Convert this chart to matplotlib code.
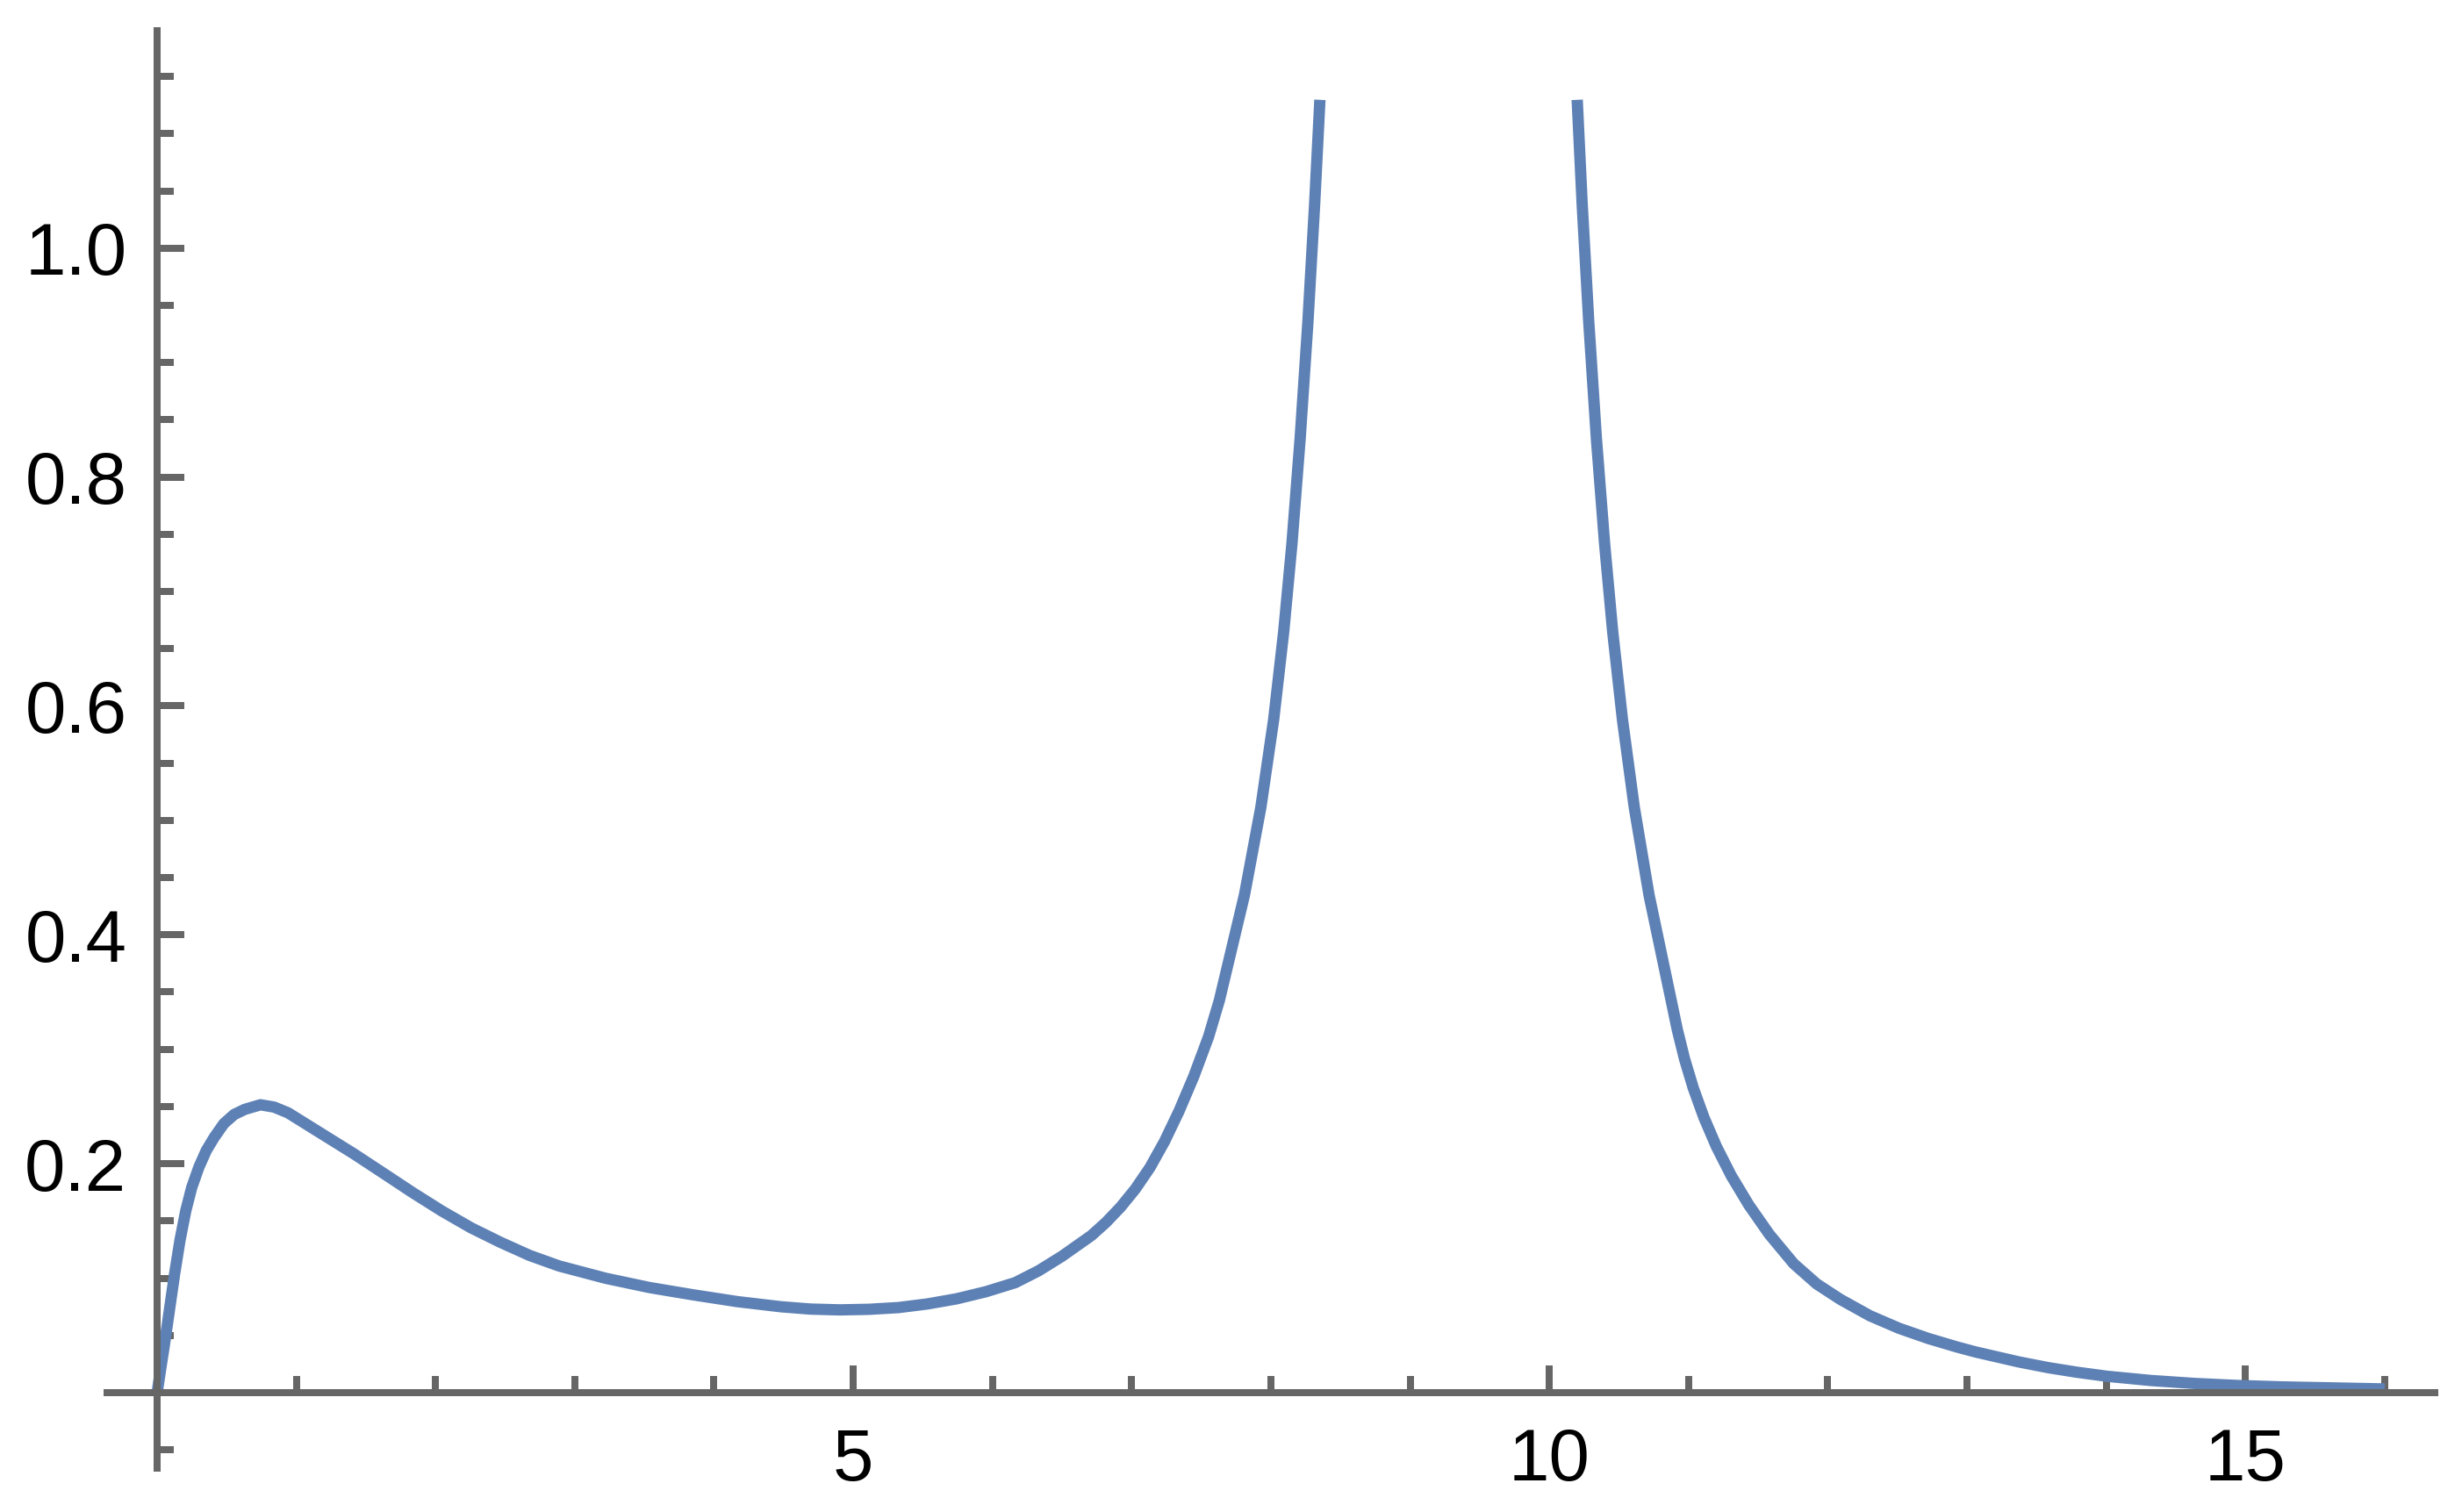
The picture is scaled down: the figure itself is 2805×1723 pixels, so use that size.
import matplotlib
matplotlib.use('Agg')
import matplotlib.pyplot as plt
from matplotlib.ticker import FixedLocator, FixedFormatter

plt.rcParams['font.family'] = ['Liberation Sans', 'DejaVu Sans']

# curve: rising branch (clipped at the top of the plot range)
left_x = [0.0, 0.032, 0.05, 0.074, 0.101, 0.126, 0.164, 0.206, 0.248, 0.30, 0.353,
          0.41, 0.479, 0.553, 0.63, 0.742, 0.84, 0.94, 1.204, 1.414, 1.625, 1.835,
          2.045, 2.255, 2.465, 2.675, 2.886, 3.222, 3.537, 3.852, 4.168, 4.483,
          4.693, 4.903, 5.113, 5.324, 5.534, 5.744, 5.954, 6.164, 6.332, 6.50,
          6.711, 6.816, 6.921, 7.026, 7.131, 7.236, 7.341, 7.447, 7.552, 7.630,
          7.810, 7.928, 8.020, 8.092, 8.151, 8.210, 8.266, 8.314, 8.352]
left_y = [0.0, 0.026, 0.040, 0.060, 0.083, 0.104, 0.133, 0.159, 0.179, 0.197, 0.2115,
          0.223, 0.235, 0.243, 0.2475, 0.2515, 0.2495, 0.2445, 0.2245, 0.2086, 0.1917, 0.1748,
          0.1587, 0.144, 0.1314, 0.1199, 0.1107, 0.0999, 0.0918, 0.0854, 0.0795, 0.0750,
          0.0730, 0.0723, 0.0728, 0.0743, 0.0775, 0.082, 0.0882, 0.0961, 0.1065, 0.1192,
          0.1373, 0.1488, 0.1622, 0.1779, 0.1966, 0.2195, 0.2462, 0.2766, 0.3109, 0.3428,
          0.4348, 0.5115, 0.5882, 0.6649, 0.7416, 0.8336, 0.9358, 1.0381, 1.1296]

# falling branch after the resonance
right_x = [10.200, 10.236, 10.283, 10.338, 10.397, 10.455, 10.525, 10.610, 10.716,
           10.875, 10.919, 10.971, 11.034, 11.110, 11.200, 11.307, 11.433, 11.580,
           11.755, 11.92, 12.09, 12.302, 12.51, 12.722, 12.93, 13.059, 13.373, 13.584,
           13.79, 14.004, 14.32, 14.635, 14.95, 15.265, 16.0]
right_y = [1.1296, 1.0381, 0.9358, 0.8336, 0.7416, 0.6649, 0.5882, 0.5115, 0.4348,
           0.3428, 0.3172, 0.2916, 0.2661, 0.2405, 0.2150, 0.1894, 0.1639, 0.1383,
           0.1127, 0.0950, 0.0815, 0.0672, 0.0563, 0.0473, 0.0398, 0.0356, 0.0268, 0.0218,
           0.0178, 0.0143, 0.0106, 0.0080, 0.0062, 0.0050, 0.0032]

x_major = [5, 10, 15]
x_labels = ['5', '10', '15']
x_minor = [1, 2, 3, 4, 6, 7, 8, 9, 11, 12, 13, 14, 16]
y_major = [0.2, 0.4, 0.6, 0.8, 1.0]
y_labels = ['0.2', '0.4', '0.6', '0.8', '1.0']
y_minor = [-0.05, 0.05, 0.1, 0.15, 0.25, 0.3, 0.35, 0.45, 0.5, 0.55, 0.65, 0.7, 0.75,
           0.85, 0.9, 0.95, 1.05, 1.1, 1.15]

line_color = '#5E81B5'
axis_color = '#666666'

fig = plt.figure(figsize=(28.05, 17.23), dpi=100)
ax = fig.add_axes([0.04335, 0.0290, 0.9456, 0.9507])

ax.plot(left_x, left_y, color=line_color, lw=9.3, solid_capstyle='butt', solid_joinstyle='round')
ax.plot(right_x, right_y, color=line_color, lw=9.3, solid_capstyle='butt', solid_joinstyle='round')

ax.set_xlim(-0.362, 16.36)
ax.set_ylim(-0.066, 1.19)

for s in ['top', 'right']:
    ax.spines[s].set_visible(False)
for s in ['left', 'bottom']:
    ax.spines[s].set_position(('data', 0))
    ax.spines[s].set_linewidth(5.76)
    ax.spines[s].set_color(axis_color)

ax.xaxis.set_major_locator(FixedLocator(x_major))
ax.xaxis.set_major_formatter(FixedFormatter(x_labels))
ax.xaxis.set_minor_locator(FixedLocator(x_minor))
ax.yaxis.set_major_locator(FixedLocator(y_major))
ax.yaxis.set_major_formatter(FixedFormatter(y_labels))
ax.yaxis.set_minor_locator(FixedLocator(y_minor))

ax.tick_params(which='both', direction='in', color=axis_color, width=5.76, labelsize=60, labelcolor='black')
ax.tick_params(which='major', length=22.3)
ax.tick_params(which='minor', length=13.7)
ax.tick_params(axis='x', which='major', pad=28)
ax.tick_params(axis='y', which='major', pad=25)

fig.savefig('out.png', dpi=100)
